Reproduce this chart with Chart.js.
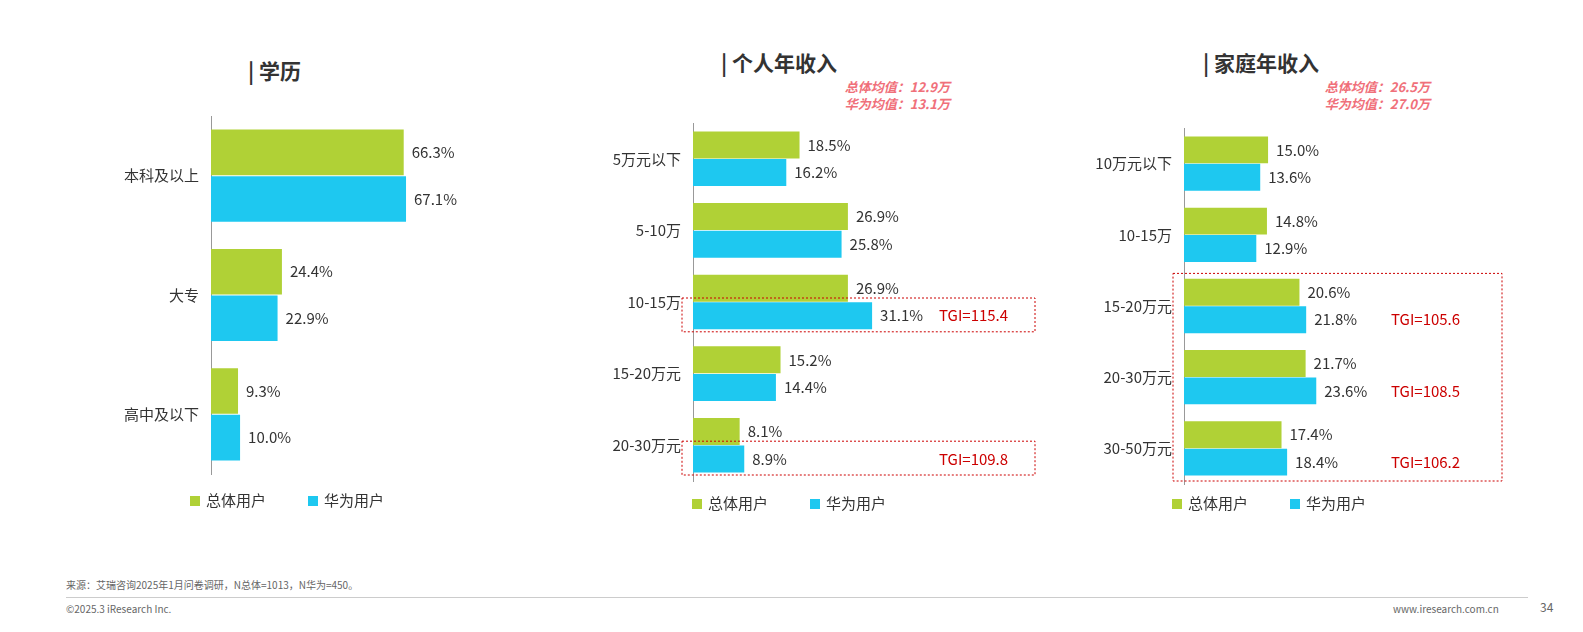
<!DOCTYPE html>
<html lang="zh">
<head>
<meta charset="UTF-8">
<title>学历与收入</title>
<style>
  body { margin: 0; width: 1583px; height: 632px; background: #fff; position: relative; overflow: hidden;
         font-family: "Noto Sans CJK SC", "Noto Sans", sans-serif; color: #333; }
  .box { position: absolute; }
  .title { position: absolute; font-size: 21px; font-weight: bold; color: #333; }
  .note { position: absolute; font-size: 13px; font-weight: bold; font-style: italic; color: #f0707a; text-align: right; line-height: 17px; }
  .legend { position: absolute; font-size: 15px; color: #333; }
  .legend span.sw { display: inline-block; width: 10px; height: 10px; margin-right: 6px; vertical-align: 0px; }
  .legend span.it { margin-right: 42px; }
  .foot { position: absolute; font-size: 10px; color: #666; }
</style>
</head>
<body>
<div class="title" style="left:248px;top:55px">| 学历</div>
<div class="title" style="left:721px;top:47px">| 个人年收入</div>
<div class="title" style="left:1203px;top:47px">| 家庭年收入</div>
<div class="note" style="left:760px;top:78px;width:190px">总体均值：12.9万<br>华为均值：13.1万</div>
<div class="note" style="left:1240px;top:78px;width:190px">总体均值：26.5万<br>华为均值：27.0万</div>

<div class="box" style="left:62px;top:95px;width:460px;height:400px"><canvas id="c1"></canvas></div>
<div class="box" style="left:566px;top:102px;width:480px;height:400px"><canvas id="c2"></canvas></div>
<div class="box" style="left:1051px;top:107px;width:490px;height:398px"><canvas id="c3"></canvas></div>

<div class="legend" style="left:190px;top:489px"><span class="it"><span class="sw" style="background:#b0d136"></span>总体用户</span><span><span class="sw" style="background:#1ec8f0"></span>华为用户</span></div>
<div class="legend" style="left:692px;top:492px"><span class="it"><span class="sw" style="background:#b0d136"></span>总体用户</span><span><span class="sw" style="background:#1ec8f0"></span>华为用户</span></div>
<div class="legend" style="left:1172px;top:492px"><span class="it"><span class="sw" style="background:#b0d136"></span>总体用户</span><span><span class="sw" style="background:#1ec8f0"></span>华为用户</span></div>

<div class="foot" style="left:66px;top:577px">来源：艾瑞咨询2025年1月问卷调研，N总体=1013，N华为=450。</div>
<div style="position:absolute;left:66px;top:597px;width:1462px;border-top:1px solid #ccc"></div>
<div class="foot" style="left:66px;top:601px">©2025.3 iResearch Inc.</div>
<div class="foot" style="left:1393px;top:601px">www.iresearch.com.cn</div>
<div class="foot" style="left:1540px;top:598px;font-size:12px">34</div>

<script src="https://cdn.jsdelivr.net/npm/chart.js"></script>
<script>
const eduCats = ['本科及以上', '大专', '高中及以下'];
const eduAll = [66.3, 24.4, 9.3];
const eduHw = [67.1, 22.9, 10.0];

const incCats = ['5万元以下', '5-10万', '10-15万', '15-20万元', '20-30万元'];
const incAll = [18.5, 26.9, 26.9, 15.2, 8.1];
const incHw = [16.2, 25.8, 31.1, 14.4, 8.9];
const incTgi = [null, null, 115.4, null, 109.8];

const famCats = ['10万元以下', '10-15万', '15-20万元', '20-30万元', '30-50万元'];
const famAll = [15.0, 14.8, 20.6, 21.7, 17.4];
const famHw = [13.6, 12.9, 21.8, 23.6, 18.4];
const famTgi = [null, null, 105.6, 108.5, 106.2];

const GREEN = '#b0d136', BLUE = '#1ec8f0', RED = '#cc0000';

// value labels, TGI text and dashed boxes
const labelPlugin = {
  id: 'labels',
  afterDatasetsDraw(chart, args, opt) {
    const c = chart.ctx, area = chart.chartArea;
    c.save();
    c.font = '15px "Noto Sans CJK SC", sans-serif';
    c.textBaseline = 'middle';
    chart.data.datasets.forEach((ds, i) => {
      chart.getDatasetMeta(i).data.forEach((bar, j) => {
        c.fillStyle = '#333';
        c.textAlign = 'left';
        c.fillText(ds.data[j].toFixed(1) + '%', bar.x + 8, bar.y);
        if (i === 1 && opt.tgi && opt.tgi[j] != null) {
          c.fillStyle = RED;
          c.fillText('TGI=' + opt.tgi[j].toFixed(1), opt.tgiX, bar.y);
        }
      });
    });
    if (opt.boxes) {
      c.strokeStyle = RED;
      c.lineWidth = 1;
      c.setLineDash([2, 2]);
      const y = chart.scales.y;
      const step = (area.bottom - area.top) / chart.data.labels.length;
      opt.boxes.forEach(b => {
        let top, bot;
        if (b.half) {
          top = y.getPixelForValue(b.from) - 4;
          bot = y.getPixelForValue(b.to) + step / 2 - 6;
        } else {
          top = y.getPixelForValue(b.from) - step / 2 + 3;
          bot = y.getPixelForValue(b.to) + step / 2 - 3;
        }
        c.strokeRect(area.left - 11, top, b.w, bot - top);
      });
    }
    c.restore();
  }
};

function makeChart(id, cats, all, hw, max, yWidth, catPct, extra) {
  return new Chart(document.getElementById(id), {
    type: 'bar',
    data: {
      labels: cats,
      datasets: [
        { data: all, backgroundColor: GREEN, categoryPercentage: catPct, barPercentage: 0.98 },
        { data: hw, backgroundColor: BLUE, categoryPercentage: catPct, barPercentage: 0.98 }
      ]
    },
    options: {
      indexAxis: 'y',
      responsive: true,
      maintainAspectRatio: false,
      animation: false,
      layout: { padding: { top: 15, bottom: 15, right: 0 } },
      scales: {
        x: { display: false, min: 0, max: max },
        y: {
          afterFit(s) { s.width = yWidth; },
          grid: { display: false, drawTicks: false },
          border: { color: '#999' },
          ticks: { color: '#333', padding: 12, font: { size: 15, family: '"Noto Sans CJK SC", sans-serif' } }
        }
      },
      plugins: { legend: { display: false }, tooltip: { enabled: false }, labels: extra || {} }
    },
    plugins: [labelPlugin]
  });
}

makeChart('c1', eduCats, eduAll, eduHw, 107, 149, 0.78);
makeChart('c2', incCats, incAll, incHw, 61.3, 127, 0.77,
  { tgi: incTgi, tgiX: 373, boxes: [{ from: 2, to: 2, half: true, w: 353 }, { from: 4, to: 4, half: true, w: 353 }] });
makeChart('c3', famCats, famAll, famHw, 63.7, 133, 0.77,
  { tgi: famTgi, tgiX: 340, boxes: [{ from: 2, to: 4, w: 329 }] });
</script>
</body>
</html>
